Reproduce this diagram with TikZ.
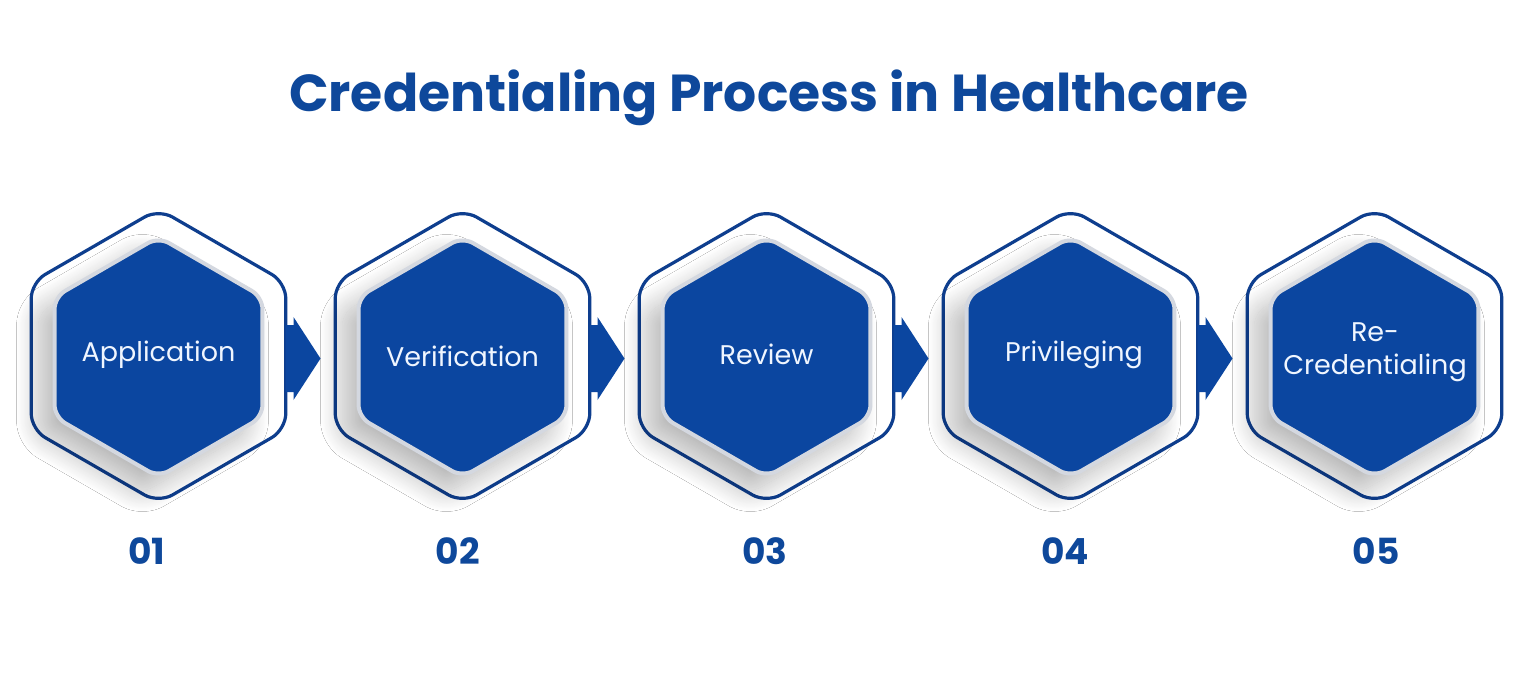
\documentclass[tikz,border=0pt]{standalone}
\usepackage{fontspec}
\setmainfont{Poppins}
\usetikzlibrary{shadows.blur}
\definecolor{hexblue}{RGB}{11,70,160}
\definecolor{ringblue}{RGB}{14,62,142}
\definecolor{titleblue}{RGB}{14,72,155}
\definecolor{rimgray}{RGB}{212,216,224}
\definecolor{txtwhite}{RGB}{240,246,255}
\newcommand{\hexp}[3]{(#1,#2) +(90:#3) -- +(30:#3) -- +(-30:#3) -- +(-90:#3) -- +(-150:#3) -- +(150:#3) -- cycle}
\tikzset{
  outerhex/.style={draw=ringblue, line width=3.2pt, fill=white, rounded corners=16pt},
  innerhex/.style={draw=rimgray, line width=4pt, fill=hexblue, rounded corners=12pt,
    blur shadow={shadow xshift=-16pt, shadow yshift=-16pt, shadow blur radius=22pt, shadow blur steps=30, shadow opacity=28}},
  flowarrow/.style={fill=hexblue},
  steptext/.style={text=txtwhite, font=\fontsize{27}{33}\selectfont, align=center},
  numtext/.style={text=titleblue, font=\fontsize{36}{40}\selectfont\bfseries},
}
\begin{document}
\begin{tikzpicture}[x=1pt,y=-1pt]
\useasboundingbox[fill=white] (0,0) rectangle (1538,688);
\node[text=titleblue, font=\fontsize{52}{60}\selectfont\bfseries] (title) at (769,98) {Credentialing Process in Healthcare};
\foreach \cx in {158.5,462.5,766.5,1070.5,1374.5}{
  \draw[outerhex] \hexp{\cx}{356}{147};
  \draw[innerhex] \hexp{\cx}{357}{120};
}
\foreach \cx in {158.5,462.5,766.5,1070.5}{
  \fill[flowarrow] ({\cx+127},325) -- ({\cx+135},325) -- ({\cx+135},317) -- ({\cx+162},358.5) -- ({\cx+135},400) -- ({\cx+135},392) -- ({\cx+127},392) -- cycle;
}
\node[steptext] (s1) at (158.5,355) {Application};
\node[steptext] (s2) at (462.5,356) {Verification};
\node[steptext] (s3) at (766.5,354) {Review};
\node[steptext] (s4) at (1074,355) {Privileging};
\node[steptext] (s5) at (1375,352) {Re-\\Credentialing};
\node[numtext] (n1) at (147,551) {01};
\node[numtext] (n2) at (458,551) {02};
\node[numtext] (n3) at (765,551) {03};
\node[numtext] (n4) at (1065,551) {04};
\node[numtext] (n5) at (1376,551) {05};
\end{tikzpicture}
\end{document}
